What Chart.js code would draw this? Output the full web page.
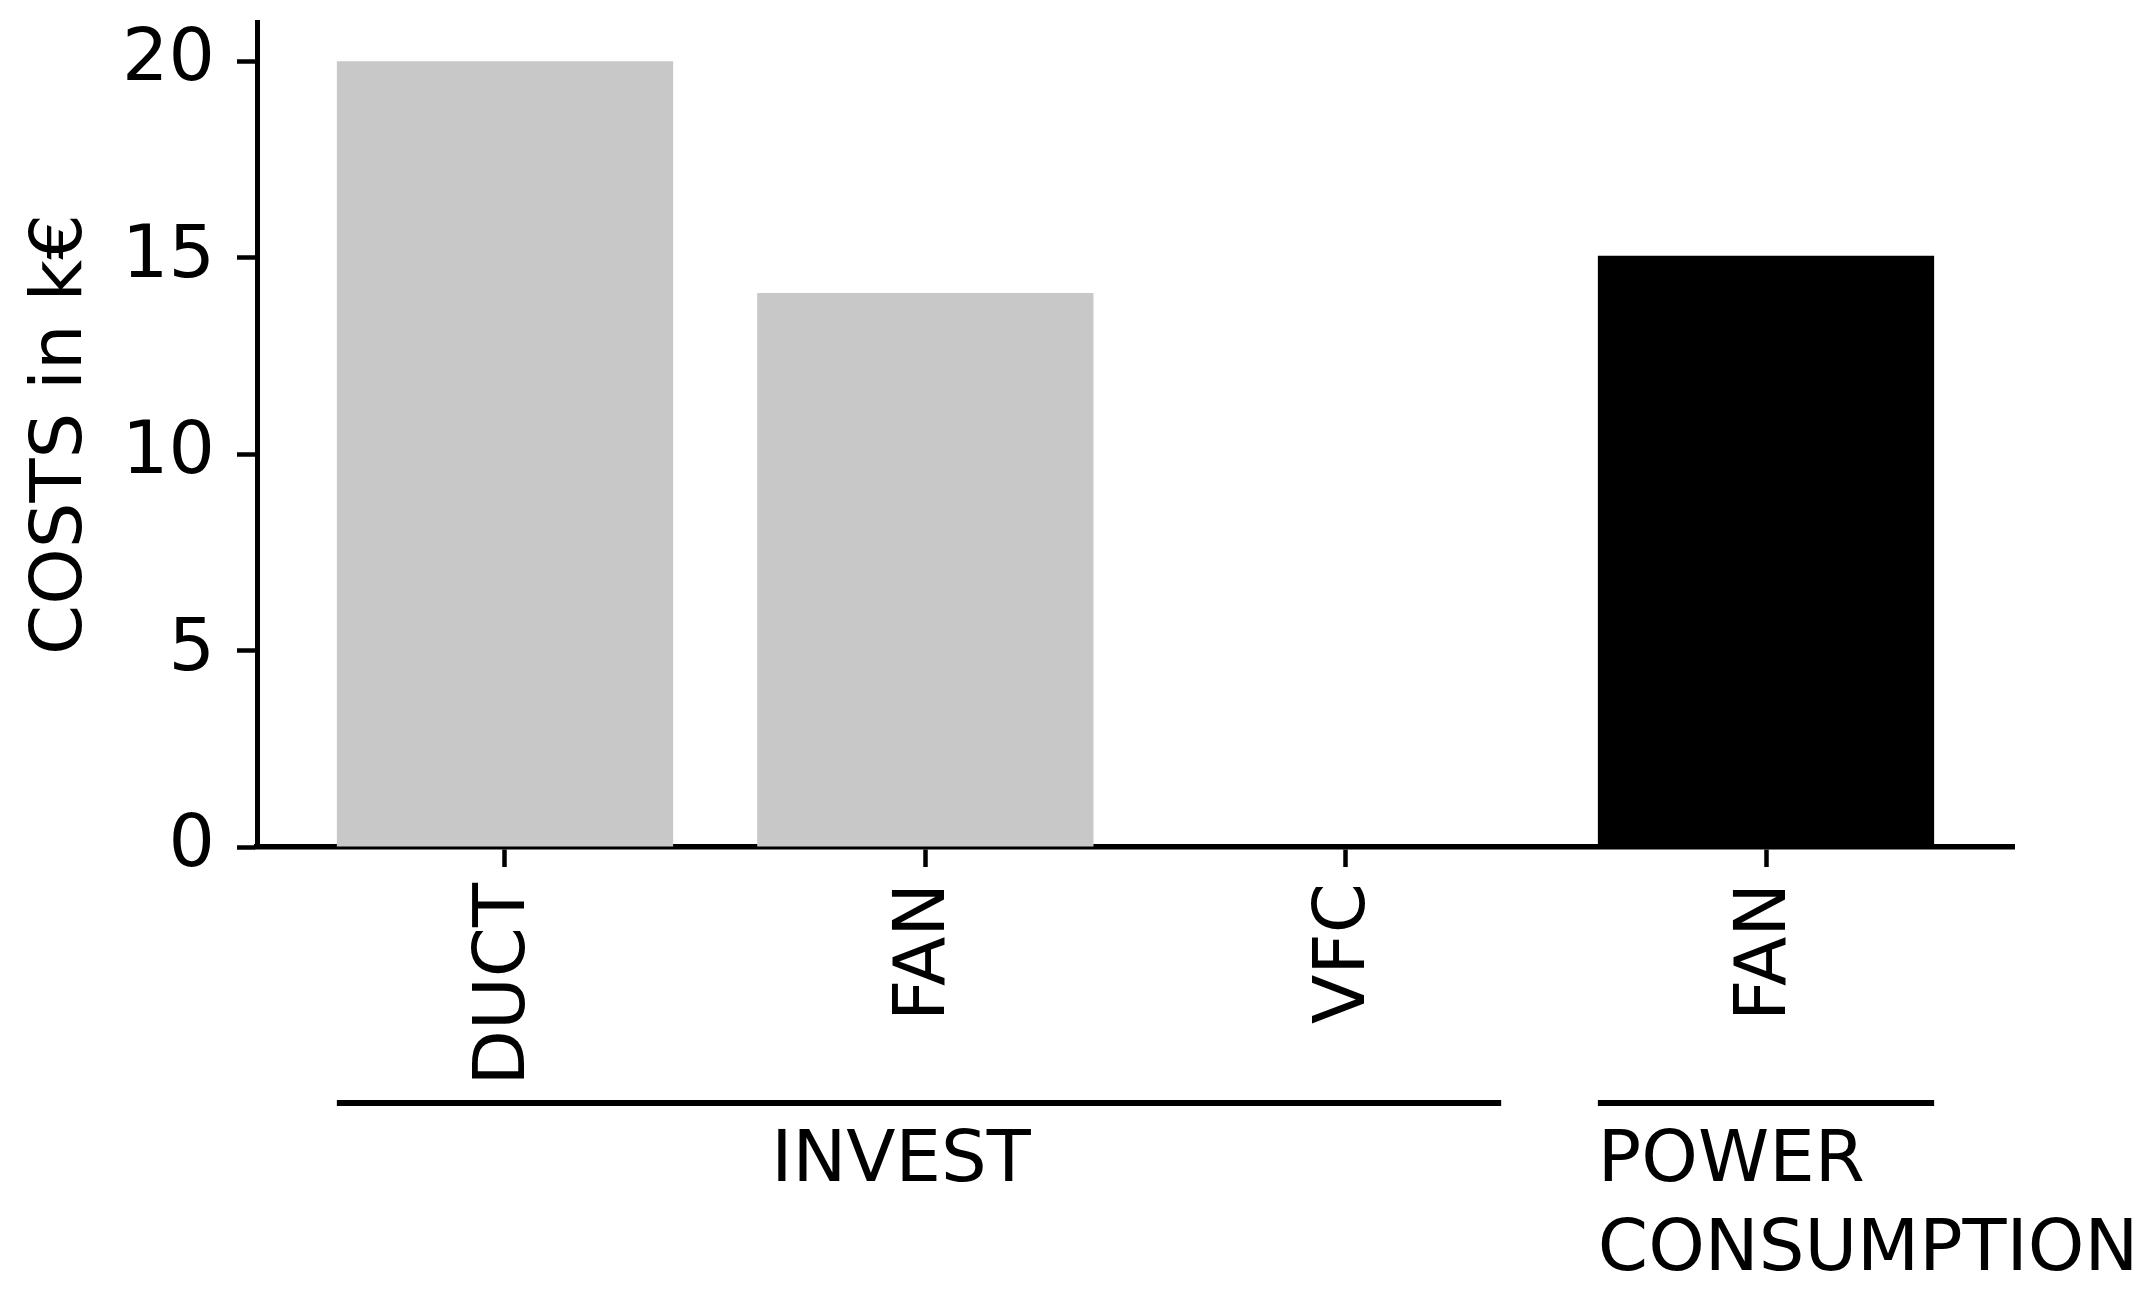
<!DOCTYPE html>
<html>
<head>
<meta charset="utf-8">
<script src="https://cdn.jsdelivr.net/npm/chart.js@4.4.1/dist/chart.umd.min.js"></script>
<style>
    html, body { margin: 0; padding: 0; background: #fff; }
    #wrap { width: 2150px; height: 1299px; }
</style>
</head>
<body>
<div id="wrap"><canvas id="costChart" width="2150" height="1299"></canvas></div>
<script>
const categories = ["DUCT", "FAN", "VFC", "FAN"];
const costs = [20.0, 14.1, 0, 15.05];
const barColors = ["#c8c8c8", "#c8c8c8", "#c8c8c8", "#000000"];
const yTicks = [0, 5, 10, 15, 20];
const groupNames = [["INVEST"], ["POWER", "CONSUMPTION"]];
const groupStart = [0, 3];
const groupEnd = [2, 3];

Chart.defaults.font.family = "'DejaVu Sans', Verdana, sans-serif";
Chart.defaults.color = "#000";

// group brackets and names under the category labels
const groupLabels = {
    id: "groupLabels",
    afterDraw(chart, args, opts) {
        const xs = chart.scales.x;
        const bottom = chart.chartArea.bottom;
        const ctx = chart.ctx;
        ctx.save();
        ctx.strokeStyle = "#000";
        ctx.fillStyle = "#000";
        ctx.lineWidth = 6;
        ctx.font = "72px 'DejaVu Sans'";
        ctx.textBaseline = "alphabetic";
        groupNames.forEach((lines, g) => {
            const x0 = xs.getPixelForValue(groupStart[g] - opts.startPad[g]);
            const x1 = xs.getPixelForValue(groupEnd[g] + opts.endPad[g]);
            ctx.beginPath();
            ctx.moveTo(x0, bottom + 256);
            ctx.lineTo(x1, bottom + 256);
            ctx.stroke();
            let tx;
            if (lines.length > 1) {
                ctx.textAlign = "left";
                tx = x0;
            } else {
                ctx.textAlign = "center";
                tx = (x0 + x1) / 2 - 18;
            }
            lines.forEach((t, k) => ctx.fillText(t, tx, bottom + 334 + k * 89));
        });
        ctx.restore();
    }
};

const ctx = document.getElementById("costChart").getContext("2d");
new Chart(ctx, {
    type: "bar",
    data: {
        datasets: [{
            data: costs.map((v, i) => ({ x: i, y: v })),
            backgroundColor: barColors,
            borderWidth: 0,
            barPercentage: 0.8,
            categoryPercentage: 1.0
        }]
    },
    options: {
        responsive: false,
        animation: false,
        devicePixelRatio: 1,
        layout: { padding: { top: 22, right: 136, left: 0, bottom: 0 } },
        plugins: {
            legend: { display: false },
            tooltip: { enabled: false },
            groupLabels: { startPad: [0.4, 0.4], endPad: [0.37, 0.4] }
        },
        scales: {
            x: {
                type: "linear",
                min: -0.59,
                max: 3.59,
                offset: false,
                afterBuildTicks: s => { s.ticks = categories.map((c, i) => ({ value: i })); },
                afterFit: s => {
                    s.height = 452;
                    s.paddingLeft = 0;
                    s.paddingRight = 0;
                },
                border: { display: true, color: "#000", width: 5.5 },
                grid: { offset: false, drawOnChartArea: false, drawTicks: true, tickLength: 20, tickWidth: 4.5, color: "#000", tickColor: "#000" },
                ticks: {
                    autoSkip: false,
                    minRotation: 90,
                    maxRotation: 90,
                    padding: 16,
                    color: "#000",
                    font: { size: 72 },
                    callback: v => categories[v]
                }
            },
            y: {
                min: 0,
                max: 21,
                afterBuildTicks: s => { s.ticks = yTicks.map(v => ({ value: v })); },
                afterFit: s => {
                    s.width = 257;
                    s.paddingTop = 0;
                    s.paddingBottom = 0;
                },
                border: { display: true, color: "#000", width: 5 },
                grid: { drawOnChartArea: false, drawTicks: true, tickLength: 20, tickWidth: 4.5, color: "#000", tickColor: "#000" },
                ticks: { color: "#000", font: { size: 73 }, padding: 22 },
                title: {
                    display: true,
                    text: "COSTS in k€",
                    color: "#000",
                    font: { size: 72 },
                    padding: { top: 19, bottom: 0 }
                }
            }
        }
    },
    plugins: [groupLabels]
});
</script>
</body>
</html>
